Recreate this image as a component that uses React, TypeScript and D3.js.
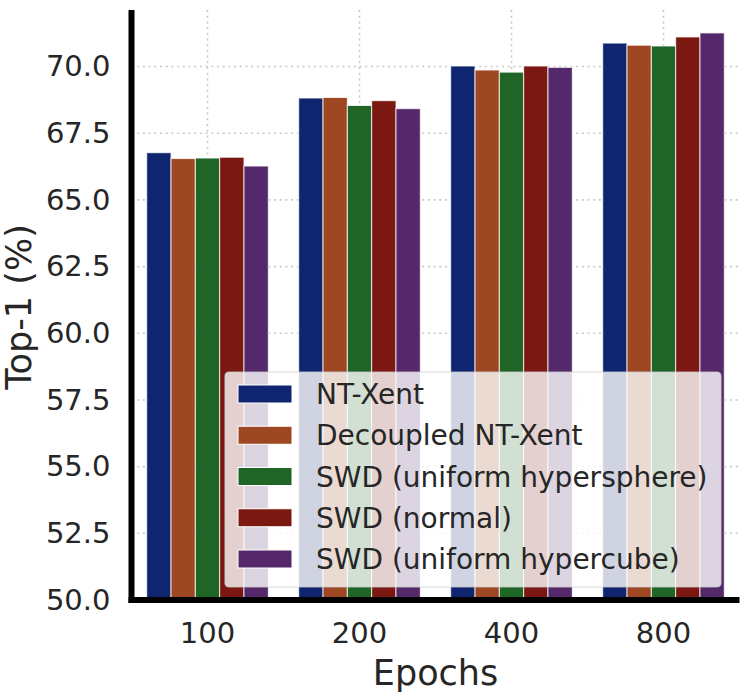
import React, { useEffect, useRef } from 'react';
import * as d3 from 'd3';

const epochs = ['100', '200', '400', '800'];
const methods = [
  'NT-Xent',
  'Decoupled NT-Xent',
  'SWD (uniform hypersphere)',
  'SWD (normal)',
  'SWD (uniform hypercube)'
];
const methodColors = ['#10256f', '#9d4822', '#1e6526', '#7b1812', '#54286a'];

// top-1 accuracy per method, one value per epoch setting
const ntXent = [66.77, 68.82, 70.02, 70.88];
const decoupled = [66.55, 68.84, 69.87, 70.8];
const swdSphere = [66.57, 68.54, 69.79, 70.77];
const swdNormal = [66.6, 68.72, 70.02, 71.11];
const swdCube = [66.27, 68.42, 69.97, 71.26];
const seriesValues = [ntXent, decoupled, swdSphere, swdNormal, swdCube];

const yTicks = [50, 52.5, 55, 57.5, 60, 62.5, 65, 67.5, 70];

const App: React.FC = () => {
  const svgRef = useRef<SVGSVGElement>(null);
  const width = 748;
  const height = 694;

  useEffect(() => {
    if (!svgRef.current) return;
    d3.select(svgRef.current).selectAll('*').remove();

    const svg = d3.select(svgRef.current);
    const font = 'DejaVu Sans';
    const textColor = '#262626';
    const left = 131.5;
    const right = 739.5;
    const top = 10;
    const bottom = 600;

    const x = d3.scaleBand<string>()
      .domain(epochs)
      .range([left, right])
      .padding(0);

    const groupWidth = x.bandwidth() * 0.8;
    const xInner = d3.scaleBand<string>()
      .domain(methods)
      .range([0, groupWidth])
      .padding(0);

    const y = d3.scaleLinear()
      .domain([50, 72.12])
      .range([bottom, top]);

    // grid
    const grid = svg.append('g');
    grid.selectAll('line.h')
      .data(yTicks)
      .enter()
      .append('line')
      .attr('x1', left)
      .attr('x2', right)
      .attr('y1', d => y(d))
      .attr('y2', d => y(d))
      .attr('stroke', '#c8c8c8')
      .attr('stroke-width', 1.6)
      .attr('stroke-dasharray', '2,3.7');

    grid.selectAll('line.v')
      .data(epochs)
      .enter()
      .append('line')
      .attr('x1', d => (x(d) as number) + x.bandwidth() / 2)
      .attr('x2', d => (x(d) as number) + x.bandwidth() / 2)
      .attr('y1', top)
      .attr('y2', bottom)
      .attr('stroke', '#c8c8c8')
      .attr('stroke-width', 1.6)
      .attr('stroke-dasharray', '2,3.7');

    // bars
    const bars = svg.append('g');
    methods.forEach((m, mi) => {
      bars.selectAll(`rect.s${mi}`)
        .data(seriesValues[mi])
        .enter()
        .append('rect')
        .attr('x', (d, i) => (x(epochs[i]) as number) + x.bandwidth() * 0.1 + (xInner(m) as number))
        .attr('y', d => y(d))
        .attr('width', xInner.bandwidth())
        .attr('height', d => y(50) - y(d))
        .attr('fill', methodColors[mi])
        .attr('stroke', 'rgba(255,255,255,0.8)')
        .attr('stroke-width', 1);
    });

    // axes
    const yAxis = d3.axisLeft(y)
      .tickValues(yTicks)
      .tickSize(0)
      .tickPadding(21)
      .tickFormat(d3.format('.1f'));

    const yg = svg.append('g')
      .attr('transform', `translate(${left},0)`)
      .call(yAxis);
    yg.select('.domain').remove();
    yg.selectAll('text')
      .attr('font-family', font)
      .attr('font-size', 29)
      .attr('fill', textColor);

    const xAxis = d3.axisBottom(x)
      .tickSize(0)
      .tickPadding(22);

    const xg = svg.append('g')
      .attr('transform', `translate(0,${bottom})`)
      .call(xAxis);
    xg.select('.domain').remove();
    xg.selectAll('text')
      .attr('font-family', font)
      .attr('font-size', 29)
      .attr('fill', textColor);

    // spines
    svg.append('line')
      .attr('x1', left)
      .attr('x2', left)
      .attr('y1', top)
      .attr('y2', bottom + 3)
      .attr('stroke', '#000')
      .attr('stroke-width', 6);
    svg.append('line')
      .attr('x1', left - 3)
      .attr('x2', right)
      .attr('y1', bottom)
      .attr('y2', bottom)
      .attr('stroke', '#000')
      .attr('stroke-width', 6);

    // axis labels
    svg.append('text')
      .attr('x', (left + right) / 2)
      .attr('y', 685)
      .attr('text-anchor', 'middle')
      .attr('font-family', font)
      .attr('font-size', 35)
      .attr('fill', textColor)
      .text('Epochs');

    svg.append('text')
      .attr('transform', 'rotate(-90)')
      .attr('x', -307)
      .attr('y', 31)
      .attr('text-anchor', 'middle')
      .attr('font-family', font)
      .attr('font-size', 35)
      .attr('fill', textColor)
      .text('Top-1 (%)');

    // legend
    const legend = svg.append('g');
    legend.append('rect')
      .attr('x', 225)
      .attr('y', 372)
      .attr('width', 496)
      .attr('height', 215)
      .attr('rx', 4)
      .attr('fill', 'rgba(255,255,255,0.8)')
      .attr('stroke', 'rgba(204,204,204,0.8)')
      .attr('stroke-width', 1.2);

    const rowY = d3.scaleLinear().domain([0, methods.length - 1]).range([394, 559]);
    const items = legend.selectAll('g.item')
      .data(methods)
      .enter()
      .append('g')
      .attr('transform', (d, i) => `translate(0,${rowY(i)})`);

    items.append('rect')
      .attr('x', 238)
      .attr('y', -9)
      .attr('width', 54)
      .attr('height', 18)
      .attr('fill', (d, i) => methodColors[i])
      .attr('stroke', '#fff')
      .attr('stroke-width', 1);

    items.append('text')
      .attr('x', 316)
      .attr('y', 0)
      .attr('dy', '0.36em')
      .attr('font-family', font)
      .attr('font-size', 28)
      .attr('fill', textColor)
      .text(d => d);
  }, []);

  return (
    <svg
      ref={svgRef}
      width={width}
      height={height}
      style={{ position: 'absolute', left: 0, top: 0, background: '#fff' }}
    />
  );
};

export default App;
